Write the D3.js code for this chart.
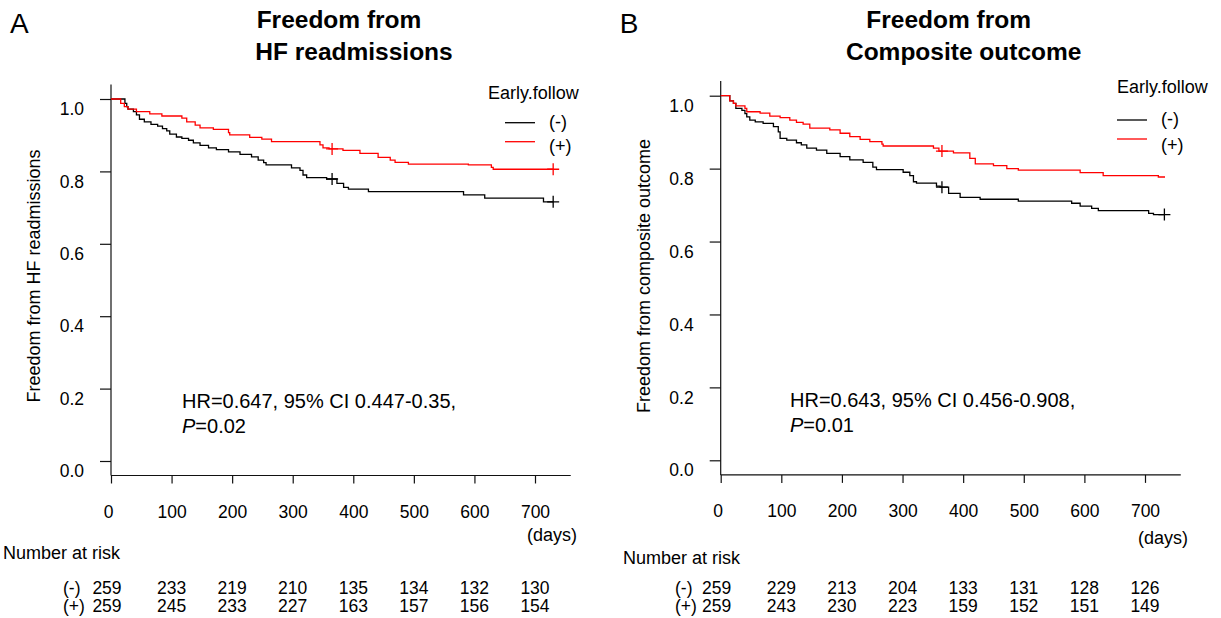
<!doctype html>
<html lang='en'>
<head>
  <meta charset='UTF-8'>
  <title>Freedom from HF readmissions / Composite outcome</title>
  <style>
    body { margin: 0; background: #fff; }
    svg { display: block; font-family: 'Liberation Sans', Arial, Helvetica, sans-serif; }
    .axis path, .axis line { fill: none; stroke: #111; stroke-width: 1.2px; }
    .axis text { font-size: 17.5px; fill: #000; }
    .km { fill: none; stroke-width: 1.3px; }
    .censor { stroke-width: 1.3px; }
  </style>
</head>
<body>
<script src='https://d3js.org/d3.v7.min.js'></script>
<script>
  // x ticks and y ticks
  const dayTicks = [0, 100, 200, 300, 400, 500, 600, 700]
  const survTicks = [0, 0.2, 0.4, 0.6, 0.8, 1.0]
  const groups = ['(-)', '(+)']

  // A: HF readmissions, [day, survival] steps
  const hfNeg = [[0,1],[23,0.988],[26,0.979],[28,0.972],[37,0.965],[42,0.956],[47,0.944],[55,0.937],
    [66,0.930],[77,0.925],[85,0.918],[92,0.912],[97,0.903],[108,0.895],[117,0.891],[128,0.886],
    [136,0.879],[147,0.872],[161,0.865],[174,0.860],[194,0.854],[213,0.847],[232,0.840],[243,0.831],
    [252,0.824],[256,0.818],[298,0.810],[312,0.803],[317,0.790],[323,0.783],[356,0.779],[373,0.767],
    [384,0.756],[392,0.751],[425,0.744],[582,0.735],[617,0.726],[714,0.716],[730,0.716]]
  const hfPos = [[0,1],[16,0.988],[22,0.979],[28,0.972],[42,0.965],[64,0.959],[84,0.953],[117,0.947],
    [125,0.937],[139,0.928],[147,0.920],[169,0.916],[194,0.907],[196,0.901],[229,0.894],[249,0.889],
    [265,0.882],[345,0.873],[350,0.865],[360,0.862],[383,0.858],[411,0.850],[441,0.839],[461,0.831],
    [469,0.825],[491,0.820],[590,0.818],[628,0.811],[631,0.806],[730,0.806]]
  const hfNegCensor = [365, 730]
  const hfPosCensor = [365, 730]

  // B: composite outcome
  const compNeg = [[0,1],[15,0.986],[21,0.979],[25,0.965],[35,0.960],[40,0.951],[43,0.942],[48,0.933],
    [57,0.928],[70,0.924],[87,0.915],[95,0.901],[98,0.883],[109,0.878],[125,0.871],[133,0.865],
    [142,0.856],[158,0.851],[175,0.842],[197,0.833],[213,0.824],[235,0.817],[251,0.804],[257,0.797],
    [301,0.790],[312,0.781],[318,0.764],[323,0.760],[356,0.752],[362,0.749],[376,0.732],[395,0.721],
    [428,0.716],[491,0.711],[579,0.705],[593,0.697],[612,0.691],[623,0.685],[706,0.677],[714,0.674],
    [732,0.674]]
  const compPos = [[0,1],[15,0.986],[21,0.979],[25,0.972],[40,0.965],[43,0.956],[65,0.952],[81,0.944],
    [98,0.940],[114,0.933],[125,0.927],[136,0.922],[147,0.911],[180,0.906],[197,0.897],[213,0.888],
    [230,0.880],[246,0.874],[266,0.867],[268,0.862],[351,0.856],[360,0.848],[384,0.843],[411,0.828],
    [420,0.813],[450,0.808],[472,0.800],[491,0.796],[593,0.789],[631,0.781],[722,0.777],[733,0.777]]
  const compNegCensor = [365, 732]
  const compPosCensor = [365]

  // number at risk
  const hfRiskNeg = [259, 233, 219, 210, 135, 134, 132, 130]
  const hfRiskPos = [259, 245, 233, 227, 163, 157, 156, 154]
  const compRiskNeg = [259, 229, 213, 204, 133, 131, 128, 126]
  const compRiskPos = [259, 243, 230, 223, 159, 152, 151, 149]

  const panels = [
    {
      letter: 'A', title: ['Freedom from', 'HF readmissions'], ylab: 'Freedom from HF readmissions',
      hr: 'HR=0.647, 95% CI 0.447-0.35,', p: '=0.02',
      series: [hfNeg, hfPos], censor: [hfNegCensor, hfPosCensor], risk: [hfRiskNeg, hfRiskPos],
      xr: [111, 535], yr: [461, 99],
      legTitleX: 488, legTitleY: 99, legLineX: 505, legY: [122.7, 141.7], legTextY: [127.5, 151.5],
      hrX: 182, hrY: 408, daysX: 577, daysY: 541, narX: 3, narY: 559, rowX: 63
    },
    {
      letter: 'B', title: ['Freedom from', 'Composite outcome'], ylab: 'Freedom from composite outcome',
      hr: 'HR=0.643, 95% CI 0.456-0.908,', p: '=0.01',
      series: [compNeg, compPos], censor: [compNegCensor, compPosCensor], risk: [compRiskNeg, compRiskPos],
      xr: [720.7, 1145], yr: [460.3, 95.7],
      legTitleX: 1117, legTitleY: 93, legLineX: 1117, legY: [120, 139], legTextY: [125, 150.5],
      hrX: 790, hrY: 407, daysX: 1188, daysY: 544, narX: 623, narY: 564, rowX: 675
    }
  ]
  const colors = ['#000', '#ff0000']

  const svg = d3.select('body').append('svg')
    .attr('width', 1221)
    .attr('height', 618)

  panels.forEach(p => {
    const x = d3.scaleLinear().domain([0, 700]).range(p.xr)
    const y = d3.scaleLinear().domain([0, 1]).range(p.yr)
    const g = svg.append('g')
    const x0 = x(0)

    // x axis (R style, 4% extended range)
    const xAxis = d3.axisBottom(x).tickValues(dayTicks).tickSize(8).tickPadding(22).tickFormat(d3.format('d'))
    const gx = g.append('g').attr('class', 'axis')
      .attr('transform', `translate(0, ${y(-0.04)})`)
      .call(xAxis)
    gx.select('.domain').remove()
    gx.append('line').attr('x1', x0).attr('x2', x(759))
    gx.selectAll('.tick text').attr('dx', d => d === 0 ? -3 : 0)

    const yAxis = d3.axisLeft(y).tickValues(survTicks).tickSize(11).tickPadding(16).tickFormat(d3.format('.1f'))
    const gy = g.append('g').attr('class', 'axis')
      .attr('transform', `translate(${x0}, 0)`)
      .call(yAxis)
    gy.select('.domain').remove()
    gy.append('line').attr('y1', y(-0.04)).attr('y2', y(1.04))
    gy.selectAll('.tick text').attr('dy', '0.95em').attr('y', -1)

    // curves
    const line = d3.line().x(d => x(d[0])).y(d => y(d[1])).curve(d3.curveStepAfter)
    p.series.forEach((s, i) => {
      g.append('path').datum(s).attr('class', 'km').attr('stroke', colors[i]).attr('d', line)
      const at = t => { let v = s[0][1]; s.forEach(d => { if (d[0] <= t) v = d[1] }); return v }
      p.censor[i].forEach(t => {
        const cx = x(t), cy = y(at(t))
        g.append('path').attr('class', 'censor').attr('stroke', colors[i])
          .attr('d', `M${cx - 6},${cy}H${cx + 6}M${cx},${cy - 6}V${cy + 6}`)
      })
    })

    // panel letter and title
    g.append('text').attr('x', x0 - 101).attr('y', 33).attr('font-size', 28).text(p.letter)
    g.append('text').attr('x', x0 + 228).attr('y', 28)
      .attr('text-anchor', 'middle').attr('font-size', 24.5).attr('font-weight', 'bold').text(p.title[0])
    g.append('text').attr('x', x0 + 243).attr('y', 60)
      .attr('text-anchor', 'middle').attr('font-size', 24.5).attr('font-weight', 'bold').text(p.title[1])

    // y label
    g.append('text')
      .attr('transform', `translate(${x0 - 71}, 276) rotate(-90)`)
      .attr('text-anchor', 'middle').attr('font-size', 18).text(p.ylab)

    // legend
    g.append('text').attr('x', p.legTitleX).attr('y', p.legTitleY).attr('font-size', 18).text('Early.follow')
    groups.forEach((lab, i) => {
      g.append('line').attr('x1', p.legLineX).attr('x2', p.legLineX + 30)
        .attr('y1', p.legY[i]).attr('y2', p.legY[i])
        .attr('stroke', colors[i]).attr('stroke-width', 1.3)
      g.append('text').attr('x', p.legLineX + 44).attr('y', p.legTextY[i]).attr('font-size', 18).text(lab)
    })

    // HR annotation
    g.append('text').attr('x', p.hrX).attr('y', p.hrY).attr('font-size', 20).text(p.hr)
    const pt = g.append('text').attr('x', p.hrX).attr('y', p.hrY + 25).attr('font-size', 20)
    pt.append('tspan').attr('font-style', 'italic').text('P')
    pt.append('tspan').text(p.p)

    // days label and risk table
    g.append('text').attr('x', p.daysX).attr('y', p.daysY).attr('text-anchor', 'end').attr('font-size', 18).text('(days)')
    g.append('text').attr('x', p.narX).attr('y', p.narY).attr('font-size', 18).text('Number at risk')
    p.risk.forEach((row, i) => {
      const ry = 594 + i * 18
      g.append('text').attr('x', p.rowX).attr('y', ry).attr('font-size', 17.5).text(groups[i])
      g.selectAll(null).data(row).join('text')
        .attr('x', (d, j) => x(dayTicks[j]) + (j === 0 ? -4 : 0))
        .attr('y', ry)
        .attr('text-anchor', 'middle')
        .attr('font-size', 17.5)
        .text(d => d)
    })
  })
</script>
</body>
</html>
